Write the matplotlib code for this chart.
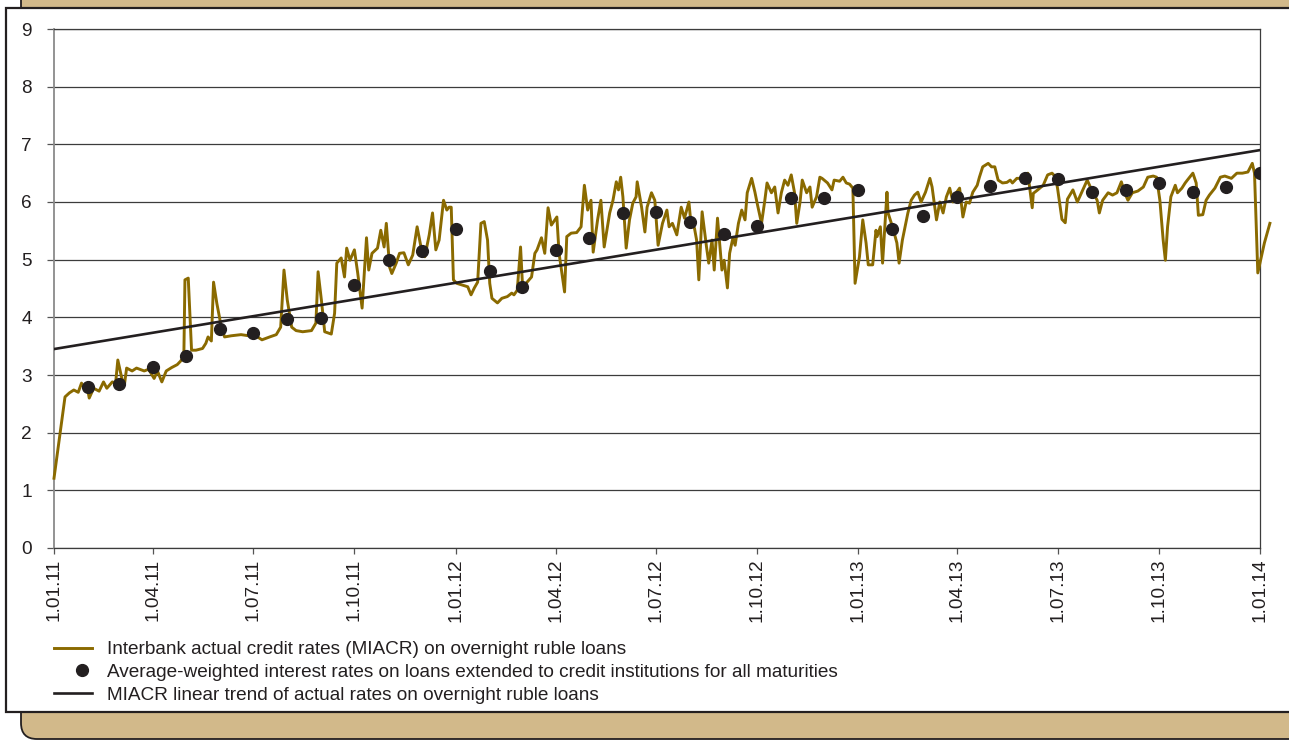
import numpy as np
import matplotlib
matplotlib.use('Agg')
import matplotlib.pyplot as plt
from matplotlib.patches import FancyBboxPatch, Rectangle
from matplotlib.transforms import IdentityTransform
from matplotlib.lines import Line2D
from matplotlib.legend_handler import HandlerLine2D

plt.rcParams['font.family'] = ['Liberation Sans', 'DejaVu Sans']

# ---------------- data ----------------
start_date = np.datetime64('2011-01-01')

# MIACR overnight rate: days since 1 Jan 2011 and value, %
miacr_days = [
    0, 10, 14, 18, 22, 25, 28, 30, 32, 36, 41, 45, 48, 53, 56, 58, 62, 64, 66, 71,
    75, 82, 86, 91, 94, 98, 102, 107, 112, 115, 118, 119, 122, 125, 129, 135, 138, 140, 143, 145,
    148, 152, 155, 161, 170, 177, 185, 189, 196, 202, 206, 209, 212, 216, 220, 226, 234, 238, 240, 243,
    246, 252, 255, 257, 261, 264, 266, 269, 273, 276, 280, 284, 286, 289, 294, 297, 300, 302, 305, 307,
    311, 314, 318, 322, 326, 330, 334, 337, 341, 344, 347, 350, 354, 357, 359, 361, 363, 366, 371, 376,
    379, 382, 385, 388, 391, 394, 396, 398, 403, 407, 412, 416, 418, 421, 424, 426, 429, 434, 437, 439,
    443, 446, 449, 452, 457, 459, 464, 466, 470, 475, 479, 482, 485, 488, 490, 494, 497, 500, 505, 508,
    511, 513, 515, 517, 520, 523, 526, 529, 530, 534, 537, 539, 543, 546, 549, 553, 557, 559, 562, 566,
    570, 573, 577, 579, 582, 584, 586, 589, 593, 595, 598, 600, 603, 607, 609, 612, 614, 617, 619, 622,
    625, 628, 630, 634, 637, 639, 643, 646, 648, 652, 655, 658, 661, 664, 667, 670, 673, 675, 678, 680,
    684, 687, 689, 693, 696, 698, 703, 707, 709, 714, 717, 720, 723, 726, 728, 732, 735, 738, 740, 744,
    747, 748, 751, 753, 757, 758, 762, 766, 768, 771, 776, 779, 782, 785, 788, 792, 796, 798, 802, 805,
    808, 811, 814, 817, 820, 823, 826, 829, 832, 835, 839, 841, 844, 849, 852, 855, 858, 862, 866, 869,
    871, 875, 878, 882, 885, 889, 890, 894, 899, 903, 907, 910, 912, 916, 919, 921, 926, 930, 934, 939,
    943, 948, 950, 953, 958, 962, 966, 970, 973, 976, 980, 985, 990, 994, 999, 1002, 1005, 1008, 1010, 1012,
    1015, 1019, 1021, 1025, 1028, 1030, 1035, 1038, 1040, 1044, 1047, 1050, 1055, 1060, 1064, 1070, 1075, 1080, 1085, 1089,
    1091, 1094, 1100, 1105,
]
miacr_values = [
    1.21, 2.62, 2.69, 2.74, 2.70, 2.86, 2.75, 2.82, 2.60, 2.77, 2.72, 2.88, 2.77, 2.88, 2.86, 3.26, 2.91, 2.83, 3.12, 3.07,
    3.12, 3.07, 3.10, 2.94, 3.07, 2.88, 3.07, 3.13, 3.18, 3.24, 3.32, 4.65, 4.68, 3.43, 3.43, 3.46, 3.55, 3.66, 3.59, 4.61,
    4.24, 3.84, 3.66, 3.68, 3.70, 3.68, 3.66, 3.61, 3.66, 3.70, 3.83, 4.82, 4.30, 3.83, 3.77, 3.75, 3.77, 3.90, 4.79, 4.30,
    3.75, 3.71, 4.07, 4.94, 5.03, 4.70, 5.20, 4.99, 5.17, 4.77, 4.16, 5.38, 4.82, 5.11, 5.20, 5.51, 5.22, 5.63, 4.87, 4.76,
    4.94, 5.11, 5.12, 4.91, 5.08, 5.57, 5.17, 5.05, 5.43, 5.81, 5.17, 5.34, 6.03, 5.86, 5.91, 5.91, 4.65, 4.59, 4.56, 4.53,
    4.39, 4.51, 4.61, 5.63, 5.66, 5.34, 4.59, 4.33, 4.25, 4.33, 4.36, 4.42, 4.39, 4.47, 5.22, 4.47, 4.59, 4.70, 5.11, 5.17,
    5.38, 5.11, 5.90, 5.60, 5.74, 5.11, 4.44, 5.40, 5.46, 5.47, 5.57, 6.29, 5.86, 6.03, 5.13, 5.69, 6.03, 5.22, 5.81, 6.03,
    6.35, 6.21, 6.43, 6.09, 5.20, 5.69, 5.98, 6.09, 6.35, 5.91, 5.48, 5.91, 6.16, 6.03, 5.25, 5.63, 5.86, 5.57, 5.63, 5.43,
    5.91, 5.72, 6.00, 5.60, 5.55, 5.34, 4.65, 5.83, 5.22, 4.94, 5.34, 4.82, 5.72, 4.82, 4.99, 4.51, 5.11, 5.38, 5.25, 5.63,
    5.86, 5.69, 6.16, 6.41, 6.17, 5.98, 5.63, 6.03, 6.33, 6.16, 6.26, 5.81, 6.16, 6.38, 6.29, 6.47, 6.16, 5.63, 6.00, 6.38,
    6.16, 6.26, 5.91, 6.09, 6.43, 6.41, 6.33, 6.21, 6.38, 6.36, 6.43, 6.33, 6.31, 6.24, 4.59, 5.05, 5.69, 5.29, 4.91, 4.91,
    5.51, 5.40, 5.57, 4.94, 6.17, 5.81, 5.57, 5.29, 4.94, 5.34, 5.81, 6.03, 6.12, 6.17, 6.00, 6.17, 6.41, 6.26, 5.69, 6.00,
    5.81, 6.09, 6.24, 6.00, 6.16, 6.24, 5.74, 6.00, 5.98, 6.17, 6.29, 6.43, 6.61, 6.67, 6.61, 6.61, 6.38, 6.33, 6.34, 6.38,
    6.33, 6.41, 6.41, 6.43, 6.50, 5.90, 6.15, 6.21, 6.29, 6.47, 6.50, 6.44, 6.24, 5.70, 5.64, 6.05, 6.21, 6.00, 6.17, 6.38,
    6.21, 6.03, 5.81, 6.03, 6.16, 6.12, 6.16, 6.35, 6.16, 6.03, 6.16, 6.19, 6.26, 6.43, 6.45, 6.43, 6.03, 5.34, 4.99, 5.57,
    6.09, 6.29, 6.16, 6.24, 6.33, 6.38, 6.50, 6.33, 5.77, 5.78, 6.03, 6.12, 6.24, 6.43, 6.45, 6.41, 6.50, 6.50, 6.52, 6.67,
    6.50, 4.77, 5.29, 5.63,
]
assert len(miacr_days) == len(miacr_values)

# Average-weighted rates on loans to credit institutions (1st of each month, Feb 2011 - Jan 2014)
avg_months = np.arange('2011-02', '2014-02', dtype='datetime64[M]')
avg_values = [
    2.79, 2.84, 3.14, 3.33, 3.80, 3.73, 3.97, 3.99, 4.56, 4.99, 5.15, 5.53,
    4.80, 4.53, 5.17, 5.38, 5.81, 5.83, 5.65, 5.44, 5.58, 6.07, 6.07, 6.21,
    5.53, 5.76, 6.09, 6.28, 6.42, 6.40, 6.17, 6.21, 6.33, 6.17, 6.26, 6.50,
]

# MIACR linear trend (end points)
trend_dates = ['2011-01-01', '2014-01-01']
trend_values = [3.45, 6.90]

tick_dates = ['2011-01-01', '2011-04-01', '2011-07-01', '2011-10-01',
              '2012-01-01', '2012-04-01', '2012-07-01', '2012-10-01',
              '2013-01-01', '2013-04-01', '2013-07-01', '2013-10-01', '2014-01-01']
tick_labels = ['1.01.11', '1.04.11', '1.07.11', '1.10.11',
               '1.01.12', '1.04.12', '1.07.12', '1.10.12',
               '1.01.13', '1.04.13', '1.07.13', '1.10.13', '1.01.14']
y_ticks = list(range(0, 10))

legend_labels = [
    'Interbank actual credit rates (MIACR) on overnight ruble loans',
    'Average-weighted interest rates on loans extended to credit institutions for all maturities',
    'MIACR linear trend of actual rates on overnight ruble loans',
]

# ---------------- styling ----------------
GOLD = '#8a6a00'
DARK = '#231f20'
TAN = '#d2b98a'
W, H = 1289, 740
FS = 13.7

fig = plt.figure(figsize=(W / 100, H / 100), dpi=100)
fig.patch.set_facecolor('white')

tan = FancyBboxPatch((21, 1), 1320, 780, boxstyle='round,pad=0,rounding_size=16',
                     fc=TAN, ec=DARK, lw=1.3, transform=IdentityTransform(), zorder=-3)
fig.add_artist(tan)
panel = Rectangle((6, 28), 1320, 704, fc='white', ec=DARK, lw=1.6,
                  transform=IdentityTransform(), zorder=-2)
fig.add_artist(panel)

ax = fig.add_axes([54 / W, 1 - 548 / H, (1260 - 54) / W, (548 - 29) / H])
ax.set_facecolor('none')

miacr_dates = start_date + np.array(miacr_days).astype('timedelta64[D]')
ax.plot(miacr_dates, miacr_values, color=GOLD, lw=2.1, zorder=3, clip_on=False,
        solid_joinstyle='round')
ax.plot(np.array(trend_dates, dtype='datetime64[D]'), trend_values, color=DARK, lw=1.9, zorder=4)
ax.plot(avg_months.astype('datetime64[D]'), avg_values, ls='none', marker='o',
        ms=8.5, color=DARK, zorder=5)

ax.set_xlim(np.datetime64('2011-01-01'), np.datetime64('2014-01-01'))
ax.set_ylim(0, 9)
ax.set_yticks(y_ticks)
ax.set_yticklabels([str(v) for v in y_ticks])
ax.set_xticks(np.array(tick_dates, dtype='datetime64[D]'))
ax.set_xticklabels(tick_labels, rotation=90)

ax.yaxis.grid(True, color='#3c3c3c', lw=0.9)
ax.xaxis.grid(False)
ax.tick_params(axis='y', length=5, width=0.9, color='#555555', pad=11, labelsize=FS,
               labelcolor=DARK)
ax.tick_params(axis='x', length=4, width=0.9, color='#555555', pad=3.5, labelsize=FS,
               labelcolor=DARK)
for s in ['top', 'bottom', 'right']:
    ax.spines[s].set_color('#3c3c3c')
    ax.spines[s].set_linewidth(0.9)
ax.spines['left'].set_color('#8a8a8a')
ax.spines['left'].set_linewidth(1.3)

handles = [Line2D([], [], color=GOLD, lw=2.1),
           Line2D([], [], ls='none', marker='o', ms=8.5, color=DARK),
           Line2D([], [], color=DARK, lw=1.9)]
fig.legend(handles, legend_labels, loc='upper left',
           bbox_to_anchor=(54 / W, 1 - 641 / H), frameon=False, fontsize=FS,
           handlelength=2.0, handletextpad=0.8, labelspacing=0.29,
           borderpad=0, borderaxespad=0, labelcolor=DARK,
           handler_map={handles[1]: HandlerLine2D(numpoints=1, xpad=0.95)})

fig.savefig('out.png', dpi=100)
